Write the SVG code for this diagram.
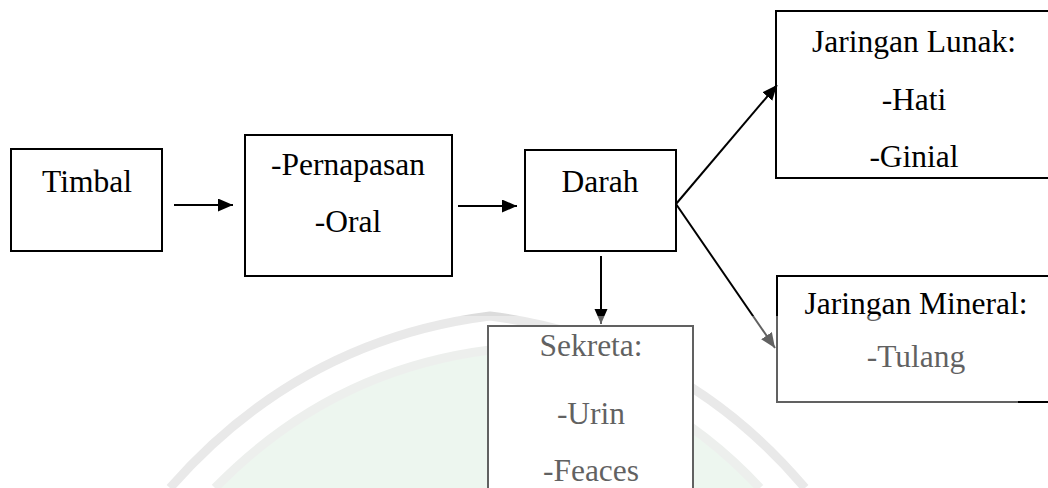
<svg xmlns="http://www.w3.org/2000/svg" width="1048" height="488" viewBox="0 0 1048 488">
<style>
.box{fill:#fff;stroke:#000;stroke-width:2}
.t{font-family:"Liberation Serif","Times New Roman",serif;font-size:31.5px;fill:#000;text-anchor:middle}
.ln{stroke:#000;stroke-width:2;fill:none}
</style>
<defs>
<marker id="ah" markerUnits="userSpaceOnUse" markerWidth="16" markerHeight="14" refX="15" refY="6.5" orient="auto">
<path d="M0,0 L15,6.5 L0,13 z" fill="#000"/>
</marker>
</defs>
<rect width="1048" height="488" fill="#fff"/>
<g id="watermark">
<path d="M215,488 Q330,370 490,350 Q650,370 760,488 Z" fill="#e3f0e6"/>
<path d="M170,488 Q300,340 490,316 Q680,340 805,488" fill="none" stroke="#dcdcdc" stroke-width="9"/>
<path d="M215,488 Q330,370 490,350 Q650,370 760,488" fill="none" stroke="#e2e6e2" stroke-width="9"/>
</g>
<g id="timbal">
<rect class="box" x="11" y="149" width="151" height="102"/>
<text class="t" x="87" y="192">Timbal</text>
</g>
<g id="jalur">
<rect class="box" x="245" y="135" width="207" height="141"/>
<text class="t" x="348" y="175">-Pernapasan</text>
<text class="t" x="348" y="232">-Oral</text>
</g>
<g id="darah">
<rect class="box" x="525" y="150" width="151" height="101"/>
<text class="t" x="600" y="192">Darah</text>
</g>
<g id="sekreta">
<rect class="box" x="488" y="326" width="205" height="180"/>
<text class="t" x="591" y="356">Sekreta:</text>
<text class="t" x="591" y="424">-Urin</text>
<text class="t" x="591" y="481">-Feaces</text>
</g>
<g id="lunak">
<rect class="box" x="776" y="11" width="280" height="167"/>
<text class="t" x="914" y="52">Jaringan Lunak:</text>
<text class="t" x="914" y="110">-Hati</text>
<text class="t" x="914" y="167">-Ginial</text>
</g>
<g id="mineral">
<rect class="box" x="777" y="276" width="280" height="126"/>
<text class="t" x="916" y="314">Jaringan Mineral:</text>
<text class="t" x="916" y="367">-Tulang</text>
</g>
<g id="connectors">
<line class="ln" x1="174" y1="205" x2="233" y2="205" marker-end="url(#ah)"/>
<line class="ln" x1="458" y1="206" x2="517" y2="206" marker-end="url(#ah)"/>
<line class="ln" x1="601" y1="256" x2="601" y2="324" marker-end="url(#ah)"/>
<line class="ln" x1="676" y1="204" x2="777" y2="85" marker-end="url(#ah)"/>
<line class="ln" x1="676" y1="204" x2="775" y2="348" marker-end="url(#ah)"/>
</g>
<rect id="fade" x="0" y="316" width="1018" height="172" fill="#fff" fill-opacity="0.38"/>
</svg>
